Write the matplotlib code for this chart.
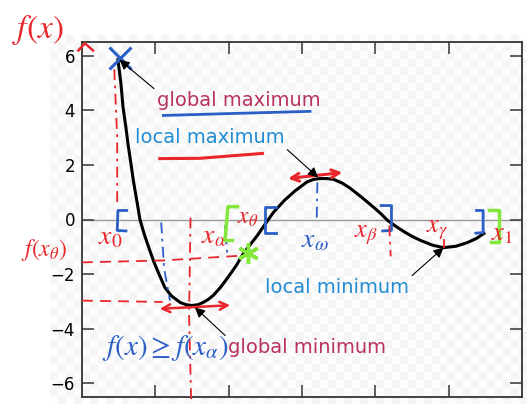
#!/usr/bin/env python

import numpy as np
import matplotlib
matplotlib.use('Agg')
import matplotlib.pyplot as plt
from matplotlib.colors import ListedColormap

plt.rcParams['mathtext.fontset'] = 'stix'

# sampled curve f(x)
curve_x = [0.49, 0.53, 0.56, 0.60, 0.63, 0.67, 0.70, 0.75, 0.79, 0.85, 0.92, 0.98, 1.05, 1.13,
           1.22, 1.34, 1.42, 1.50, 1.58, 1.65, 1.72, 1.79, 1.89, 1.99, 2.10, 2.20, 2.30, 2.39,
           2.50, 2.61, 2.76, 2.91, 3.07, 3.16, 3.25, 3.34, 3.43, 3.55, 3.66, 3.82, 3.98, 4.08,
           4.17, 4.29, 4.40, 4.51, 4.62, 4.78, 4.93, 5.10, 5.26, 5.38, 5.48]
curve_y = [5.85, 5.00, 4.10, 3.35, 2.71, 2.00, 1.43, 0.65, 0.00, -0.55, -1.10, -1.55, -2.00, -2.49,
           -2.80, -3.04, -3.12, -3.15, -3.12, -3.04, -2.93, -2.78, -2.48, -2.12, -1.70, -1.25, -0.90, -0.59,
           -0.16, 0.26, 0.70, 1.06, 1.38, 1.47, 1.50, 1.50, 1.47, 1.33, 1.14, 0.80, 0.44, 0.20,
           -0.04, -0.27, -0.46, -0.63, -0.77, -0.94, -1.03, -0.98, -0.84, -0.69, -0.51]

# named points on x
x0, x_alpha, x_theta, x_omega, x_beta, x_gamma, x1 = 0.49, 1.50, 1.98, 3.22, 4.19, 4.93, 5.48
f_max, f_alpha, f_omega, f_gamma, f_theta = 5.85, -3.15, 1.50, -1.03, -1.21

yticks = [-6, -4, -2, 0, 2, 4, 6]
xticks = [1, 2, 3, 4, 5]

RED = '#e8262b'
BLUE = '#2b5fc7'
GREEN = '#84e83c'
CRIMSON = '#b8325f'
SKY = '#1f8cd3'

fig = plt.figure(figsize=(5.27, 4.04), dpi=100)

# faint checkerboard behind the plot
bg = fig.add_axes([50/527, 0, 477/527, 1 - 35/404], zorder=-1)
nx, ny = 60, 46
checker = np.add.outer(np.arange(ny), np.arange(nx)) % 2
bg.imshow(checker, cmap=ListedColormap(['#f5f5f5', '#fdfdfd']),
          interpolation='nearest', aspect='auto')
bg.axis('off')

ax = fig.add_axes([82/527, 1 - 397/404, 440/527, 355/404])
ax.set_facecolor('none')
ax.set_xlim(0, 6)
ax.set_ylim(-6.5, 6.5)
ax.set_xticks(xticks)
ax.set_yticks(yticks)
ax.tick_params(direction='in', length=8.5, width=1.2, top=True, right=True,
               labelbottom=False, labelsize=12, color='#444444', pad=5)
for s in ax.spines.values():
    s.set_color('#333333')
    s.set_linewidth(1.3)

ax.axhline(0, color='#9a9a9a', lw=1, zorder=1)
ax.plot(curve_x, curve_y, color='black', lw=2.2, zorder=3)

arrow = dict(arrowstyle='-|>', color='black', lw=0.8, mutation_scale=15, shrinkA=0, shrinkB=0)
ax.annotate('global maximum', xy=(x0 + 0.02, f_max), xytext=(1.02, 4.36), color=CRIMSON,
            fontsize=14, va='center', arrowprops=dict(arrow, relpos=(0, 1)), zorder=5)
ax.annotate('local maximum', xy=(x_omega, f_omega + 0.04), xytext=(0.72, 3.0), color=SKY,
            fontsize=14, va='center', arrowprops=dict(arrow, relpos=(1, 0)), zorder=5)
ax.annotate('local minimum', xy=(x_gamma, f_gamma), xytext=(2.50, -2.49), color=SKY,
            fontsize=14, va='center', arrowprops=dict(arrow, relpos=(1, 1)), zorder=5)
ax.annotate('global minimum', xy=(1.54, -3.22), xytext=(1.99, -4.69), color=CRIMSON,
            fontsize=14, va='center', arrowprops=dict(arrow, relpos=(0, 1)), zorder=5)

# pen marks
dashdot = (0, (6, 3, 1.5, 3))
dashed = (0, (6, 4))
kw = dict(clip_on=False, zorder=4)

ax.plot([0.52], [5.90], marker='x', ms=16, mew=2.2, color=BLUE, **kw)
ax.plot([0.44, 0.48, 0.48], [5.5, 3.0, 0.5], color=RED, lw=1.3, ls=dashdot, **kw)
ax.plot([0.61, 0.49, 0.48, 0.60], [0.33, 0.33, -0.40, -0.42], color=BLUE, lw=2, **kw)
ax.text(0.38, -0.62, r'$x_0$', color=RED, fontsize=20, ha='center', va='center', **kw)

# f(x_theta) and f(x_alpha) levels
ax.plot([0, 1.1, 2.2], [-1.57, -1.50, -1.32], color=RED, lw=1.3, ls=dashed, **kw)
ax.text(-0.52, -1.12, r'$f(x_\theta)$', color=RED, fontsize=17, ha='center', va='center', **kw)
ax.plot([0, 1.1], [-2.97, -3.02], color=RED, lw=1.3, ls=dashed, **kw)
ax.annotate('', xy=(1.06, -3.27), xytext=(2.02, -3.14), annotation_clip=False, zorder=4,
            arrowprops=dict(arrowstyle='<->', color=RED, lw=1.8, mutation_scale=14,
                            shrinkA=0, shrinkB=0))
ax.plot([1.48, 1.46, 1.49], [0.07, -3.5, -6.8], color=RED, lw=1.3, ls=dashdot, **kw)
ax.text(1.80, -0.60, r'$x_\alpha$', color=RED, fontsize=20, ha='center', va='center', **kw)
ax.plot([1.08, 1.12, 1.20], [-0.11, -1.8, -2.97], color=BLUE, lw=1.3, ls=dashdot, **kw)
ax.plot([1.95, 1.98], [-0.22, -1.21], color=BLUE, lw=1.3, ls=dashdot, **kw)

# x_theta
ax.plot([2.12, 1.99, 1.95, 2.05], [0.47, 0.47, -0.77, -0.77], color=GREEN, lw=2.5, **kw)
ax.text(2.26, 0.08, r'$x_\theta$', color=RED, fontsize=17, ha='center', va='center', **kw)
ax.plot([2.26], [f_theta], marker=(6, 2, 0), ms=15, mew=2.5, color=GREEN, **kw)
ax.plot([2.64, 2.50, 2.50, 2.64], [0.44, 0.44, -0.51, -0.51], color=BLUE, lw=2, **kw)

# x_omega
ax.annotate('', xy=(2.81, 1.50), xytext=(3.55, 1.72), annotation_clip=False, zorder=4,
            arrowprops=dict(arrowstyle='<->', color=RED, lw=2.2, mutation_scale=14,
                            shrinkA=0, shrinkB=0))
ax.plot([3.21, 3.20], [1.36, -0.04], color=BLUE, lw=1.3, ls=dashdot, **kw)
ax.text(3.18, -0.72, r'$x_\omega$', color=BLUE, fontsize=20, ha='center', va='center', **kw)

# x_beta
ax.plot([4.08, 4.22, 4.22, 4.10], [0.51, 0.51, -0.40, -0.42], color=BLUE, lw=2, **kw)
ax.text(3.87, -0.52, r'$x_\beta$', color=RED, fontsize=19, ha='center', va='center', **kw)
ax.plot([4.19, 4.21], [-0.22, -1.35], color=RED, lw=1.3, ls=dashdot, **kw)

# x_gamma
ax.text(4.84, -0.35, r'$x_\gamma$', color=RED, fontsize=19, ha='center', va='center', **kw)
ax.plot([4.93, 4.93], [-0.75, -1.0], color=RED, lw=1.3, **kw)

# x1
ax.plot([5.38, 5.47, 5.47, 5.37], [0.33, 0.33, -0.48, -0.50], color=BLUE, lw=2, **kw)
ax.plot([5.55, 5.68, 5.68, 5.58], [0.33, 0.33, -0.84, -0.84], color=GREEN, lw=2.5, **kw)
ax.text(5.72, -0.52, r'$x_1$', color=RED, fontsize=19, ha='center', va='center', **kw)

# underlines
ax.plot([1.06, 1.60, 2.46], [2.23, 2.24, 2.42], color=RED, lw=2.2, **kw)
ax.plot([1.11, 2.02, 3.11], [3.81, 3.88, 3.96], color=BLUE, lw=2, **kw)

ax.text(1.13, -4.72, r'$f(x) \geq f(x_\alpha)$', color=BLUE, fontsize=21,
        ha='center', va='center', **kw)
ax.text(-0.60, 6.95, r'$f(x)$', color=RED, fontsize=24, ha='center', va='center', **kw)
ax.plot([-0.05, 0.04, 0.15], [6.19, 6.45, 6.19], color=RED, lw=1.8, **kw)

plt.savefig('out.png', dpi=100)
